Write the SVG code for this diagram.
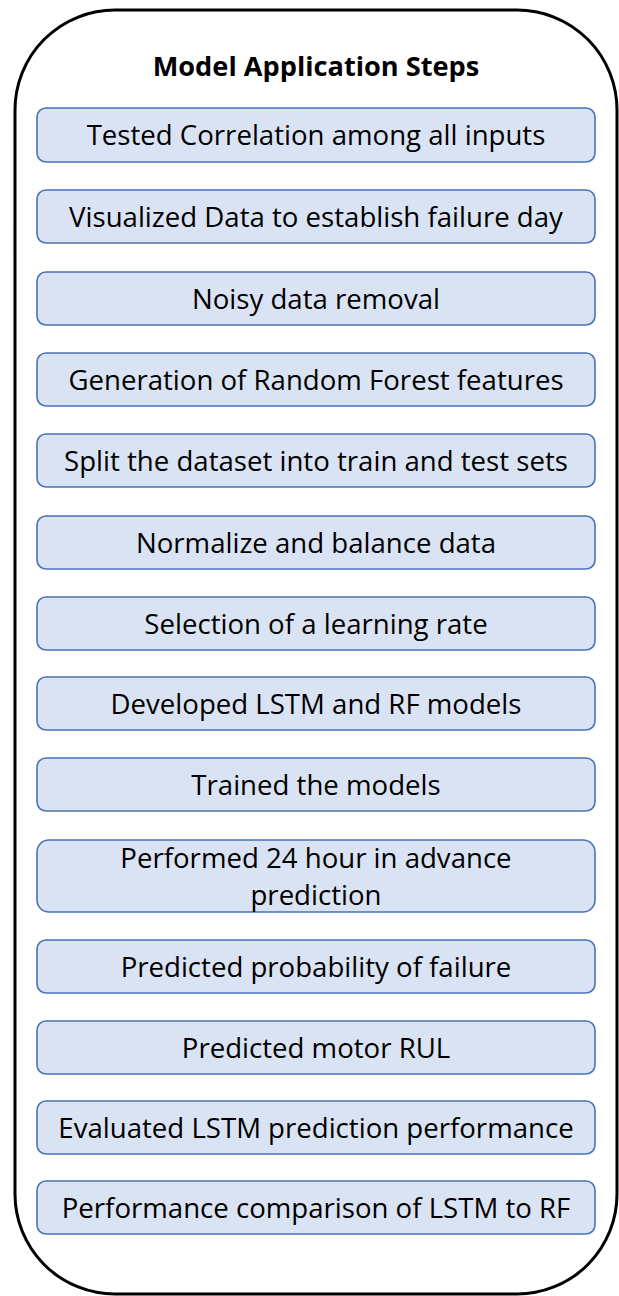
<svg xmlns="http://www.w3.org/2000/svg" width="619" height="1296" viewBox="0 0 619 1296">
<style>
.frame{fill:#fff;stroke:#000;stroke-width:3}
.box{fill:#dae3f3;stroke:#4a72b8;stroke-width:1.6}
.t{font-family:"Open Sans","Liberation Sans",Arial,sans-serif;font-size:27.6px;fill:#000;text-anchor:middle}
.title{font-family:"Open Sans","Liberation Sans",Arial,sans-serif;font-size:27.2px;font-weight:bold;fill:#000;text-anchor:middle}
</style>
<rect width="619" height="1296" fill="#fff"/>
<g id="frame">
<rect class="frame" x="15" y="10" width="602" height="1284" rx="100" ry="100"/>
<text class="title" x="316" y="76">Model Application Steps</text>
</g>
<g id="connectors"></g>
<g id="n1"><rect class="box" x="37" y="108" width="558" height="54" rx="9"/><text class="t" x="316" y="145">Tested Correlation among all inputs</text></g>
<g id="n2"><rect class="box" x="37" y="190" width="558" height="53" rx="9"/><text class="t" x="316" y="227">Visualized Data to establish failure day</text></g>
<g id="n3"><rect class="box" x="37" y="272" width="558" height="53" rx="9"/><text class="t" x="316" y="309">Noisy data removal</text></g>
<g id="n4"><rect class="box" x="37" y="353" width="558" height="53" rx="9"/><text class="t" x="316" y="390">Generation of Random Forest features</text></g>
<g id="n5"><rect class="box" x="37" y="434" width="558" height="53" rx="9"/><text class="t" x="316" y="471">Split the dataset into train and test sets</text></g>
<g id="n6"><rect class="box" x="37" y="516" width="558" height="53" rx="9"/><text class="t" x="316" y="553">Normalize and balance data</text></g>
<g id="n7"><rect class="box" x="37" y="597" width="558" height="53" rx="9"/><text class="t" x="316" y="634">Selection of a learning rate</text></g>
<g id="n8"><rect class="box" x="37" y="677" width="558" height="53" rx="9"/><text class="t" x="316" y="714">Developed LSTM and RF models</text></g>
<g id="n9"><rect class="box" x="37" y="758" width="558" height="53" rx="9"/><text class="t" x="316" y="795">Trained the models</text></g>
<g id="n10"><rect class="box" x="37" y="840" width="558" height="72" rx="12"/><text class="t" x="316" y="868">Performed 24 hour in advance</text><text class="t" x="316" y="905">prediction</text></g>
<g id="n11"><rect class="box" x="37" y="940" width="558" height="53" rx="9"/><text class="t" x="316" y="977">Predicted probability of failure</text></g>
<g id="n12"><rect class="box" x="37" y="1021" width="558" height="53" rx="9"/><text class="t" x="316" y="1058">Predicted motor RUL</text></g>
<g id="n13"><rect class="box" x="37" y="1101" width="558" height="53" rx="9"/><text class="t" x="316" y="1138">Evaluated LSTM prediction performance</text></g>
<g id="n14"><rect class="box" x="37" y="1181" width="558" height="53" rx="9"/><text class="t" x="316" y="1218">Performance comparison of LSTM to RF</text></g>
</svg>
